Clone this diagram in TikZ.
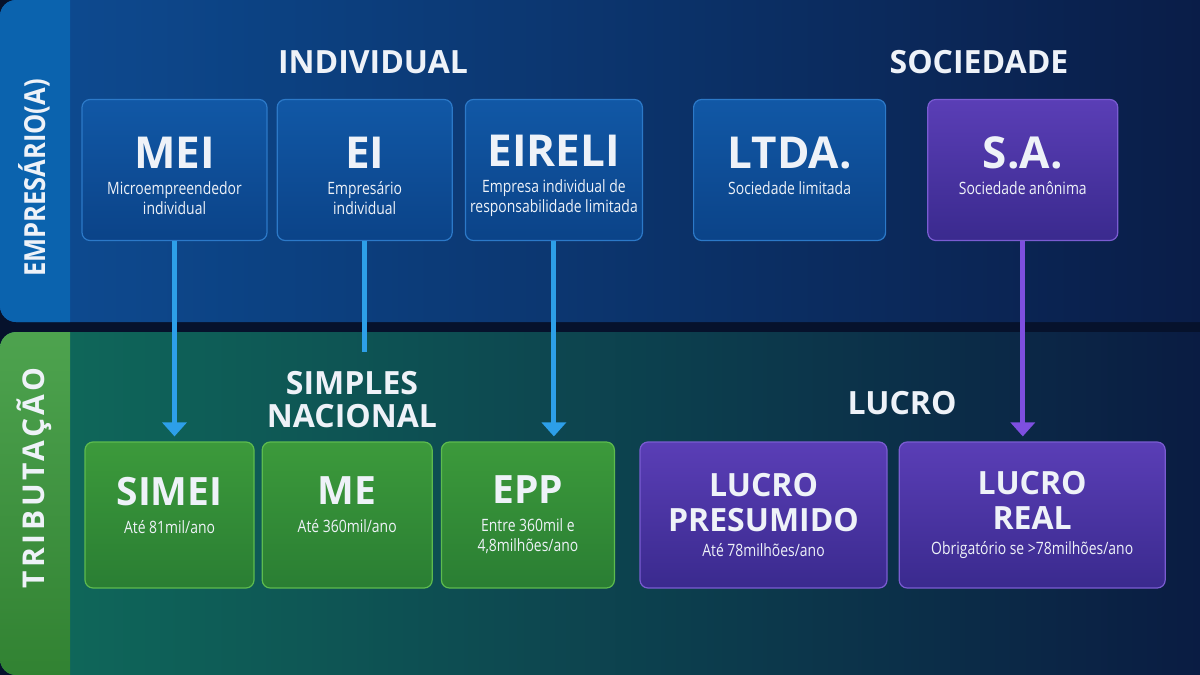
\documentclass[tikz,border=0pt]{standalone}
\usepackage{fontspec}
\setmainfont{Open Sans}
\newfontfamily\condfont[FakeStretch=0.82]{Open Sans}
\newfontfamily\sidefont[FakeStretch=0.88]{Open Sans}
\newfontfamily\tribfont[LetterSpace=12]{Open Sans}
\usepackage{xcolor}
\usepackage{tikz}
\usetikzlibrary{positioning, arrows.meta}

\definecolor{bgdark}{HTML}{06122C}
\definecolor{topL}{HTML}{0D4C93}
\definecolor{topR}{HTML}{0A1C46}
\definecolor{botL}{HTML}{0F6B5B}
\definecolor{botM}{HTML}{0C3559}
\definecolor{botR}{HTML}{0A1A42}
\definecolor{sideblue}{HTML}{0B63AE}
\definecolor{sidegreen}{HTML}{3A993B}
\definecolor{txtwhite}{HTML}{EEF2F8}
\definecolor{arrblue}{HTML}{2D9FE8}
\definecolor{arrpurple}{HTML}{7E4FE0}
\definecolor{blueT}{HTML}{1158A6}
\definecolor{blueB}{HTML}{0B4388}
\definecolor{blueD}{HTML}{2C79C8}
\definecolor{greenT}{HTML}{3C9A3B}
\definecolor{greenB}{HTML}{2A7E33}
\definecolor{greenD}{HTML}{5DBB4E}
\definecolor{purpT}{HTML}{5A3EB6}
\definecolor{purpB}{HTML}{3A2A8E}
\definecolor{purpD}{HTML}{7A5CD2}

\newcommand{\boxttl}{\rmfamily\bfseries\fontsize{44}{46}\selectfont\rule{0pt}{43.5pt}}
\newcommand{\lowttl}{\rmfamily\bfseries\fontsize{39}{42}\selectfont}
\newcommand{\lucttl}{\rmfamily\bfseries\fontsize{32}{35}\selectfont}
\newcommand{\subtxt}{\condfont\fontsize{17}{20}\selectfont}

\begin{document}
\begin{tikzpicture}[
      x=1pt, y=-1pt,
      node distance=9pt,
      box/.style={rounded corners=8pt, align=center, text=txtwhite, line width=1.2pt,
        minimum height=141pt, inner sep=0pt, font=\subtxt},
      bluebox/.style={box, draw=blueD, top color=blueT, bottom color=blueB},
      purplebox/.style={box, draw=purpD, top color=purpT, bottom color=purpB},
      greenbox/.style={box, minimum height=146pt, draw=greenD, top color=greenT, bottom color=greenB},
      lucbox/.style={purplebox, minimum height=146pt},
      section/.style={text=txtwhite, font=\bfseries\fontsize{32}{34}\selectfont, align=center},
      sidelbl/.style={text=txtwhite, rotate=90, font=\sidefont\bfseries\fontsize{29}{31}\selectfont},
      arr/.style={line width=5pt, -{Triangle[width=24pt, length=14pt]}, shorten >=5pt},
      stem/.style={line width=5pt}
    ]
    \useasboundingbox (0,0) rectangle (1200,675);

    % Background bands
    \fill[bgdark] (0,0) rectangle (1200,675);
    \shade[left color=topL, right color=topR, rounded corners=16pt] (0,0) rectangle (1230,322);
    \shade[left color=botL, middle color=botM, right color=botR, rounded corners=16pt] (0,332) rectangle (1230,675);
    \begin{scope}
      \clip (0,0) rectangle (70,675);
      \fill[sideblue, rounded corners=16pt] (0,0) rectangle (100,322);
      \shade[top color=sidegreen!90!white, bottom color=sidegreen!85!black, rounded corners=16pt] (0,332) rectangle (100,675);
    \end{scope}

    % Side labels
    \node[sidelbl] (emp) at (34,178) {EMPRESÁRIO(A)};
    \node[sidelbl, font=\tribfont\bfseries\fontsize{30}{32}\selectfont] (trib) at (34,478) {TRIBUTAÇÃO};

    % Section titles
    \node[section] (indiv) at (373,62) {INDIVIDUAL};
    \node[section] (socied) at (979,62) {SOCIEDADE};
    \node[section] (simples) at (352,400) {SIMPLES\\[-1pt]NACIONAL};
    \node[section] (lucro) at (902,403) {LUCRO};

    % Nodes: empresario
    \node[bluebox, minimum width=185pt] (mei) at (174.5,170)
      {{\boxttl MEI}\\[6pt]Microempreendedor\\individual};
    \node[bluebox, minimum width=175pt, right=of mei] (ei)
      {{\boxttl EI}\\[6pt]Empresário\\individual};
    \node[bluebox, minimum width=177pt, right=12pt of ei] (eireli)
      {{\boxttl EIRELI}\\[6pt]Empresa individual de\\responsabilidade limitada};
    \node[bluebox, minimum width=192pt, right=50pt of eireli] (ltda)
      {{\boxttl LTDA.}\\[6pt]Sociedade limitada\\\mbox{}};
    \node[purplebox, minimum width=190pt, right=41pt of ltda] (sa)
      {{\boxttl S.A.}\\[6pt]Sociedade anônima\\\mbox{}};

    % Nodes: tributacao
    \node[greenbox, minimum width=169pt] (simei) at (169.5,515)
      {{\lowttl SIMEI}\\[8pt]Até 81mil/ano\\\mbox{}};
    \node[greenbox, minimum width=170pt, right=7pt of simei] (me)
      {{\lowttl ME}\\[8pt]Até 360mil/ano\\\mbox{}};
    \node[greenbox, minimum width=173pt, right=8pt of me] (epp)
      {{\lowttl EPP}\\[8pt]Entre 360mil e\\4,8milhões/ano};
    \node[lucbox, minimum width=247pt] (presumido) at (763.5,515)
      {{\lucttl LUCRO}\\[10pt]{\lucttl PRESUMIDO}\\[5pt]Até 78milhões/ano};
    \node[lucbox, minimum width=266pt, right=11pt of presumido] (real)
      {{\lucttl LUCRO}\\[10pt]{\lucttl REAL}\\[5pt]Obrigatório se >78milhões/ano};

    % Edges
    \coordinate (eiend) at (ei.south |- 0,352);
    \draw[arr, arrblue] (mei.south) -- (mei.south |- simei.north);
    \draw[stem, arrblue] (ei.south) -- (eiend);
    \draw[arr, arrblue] (eireli.south) -- (eireli.south |- epp.north);
    \draw[arr, arrpurple] (sa.south) -- (sa.south |- real.north);
  \end{tikzpicture}
\end{document}
